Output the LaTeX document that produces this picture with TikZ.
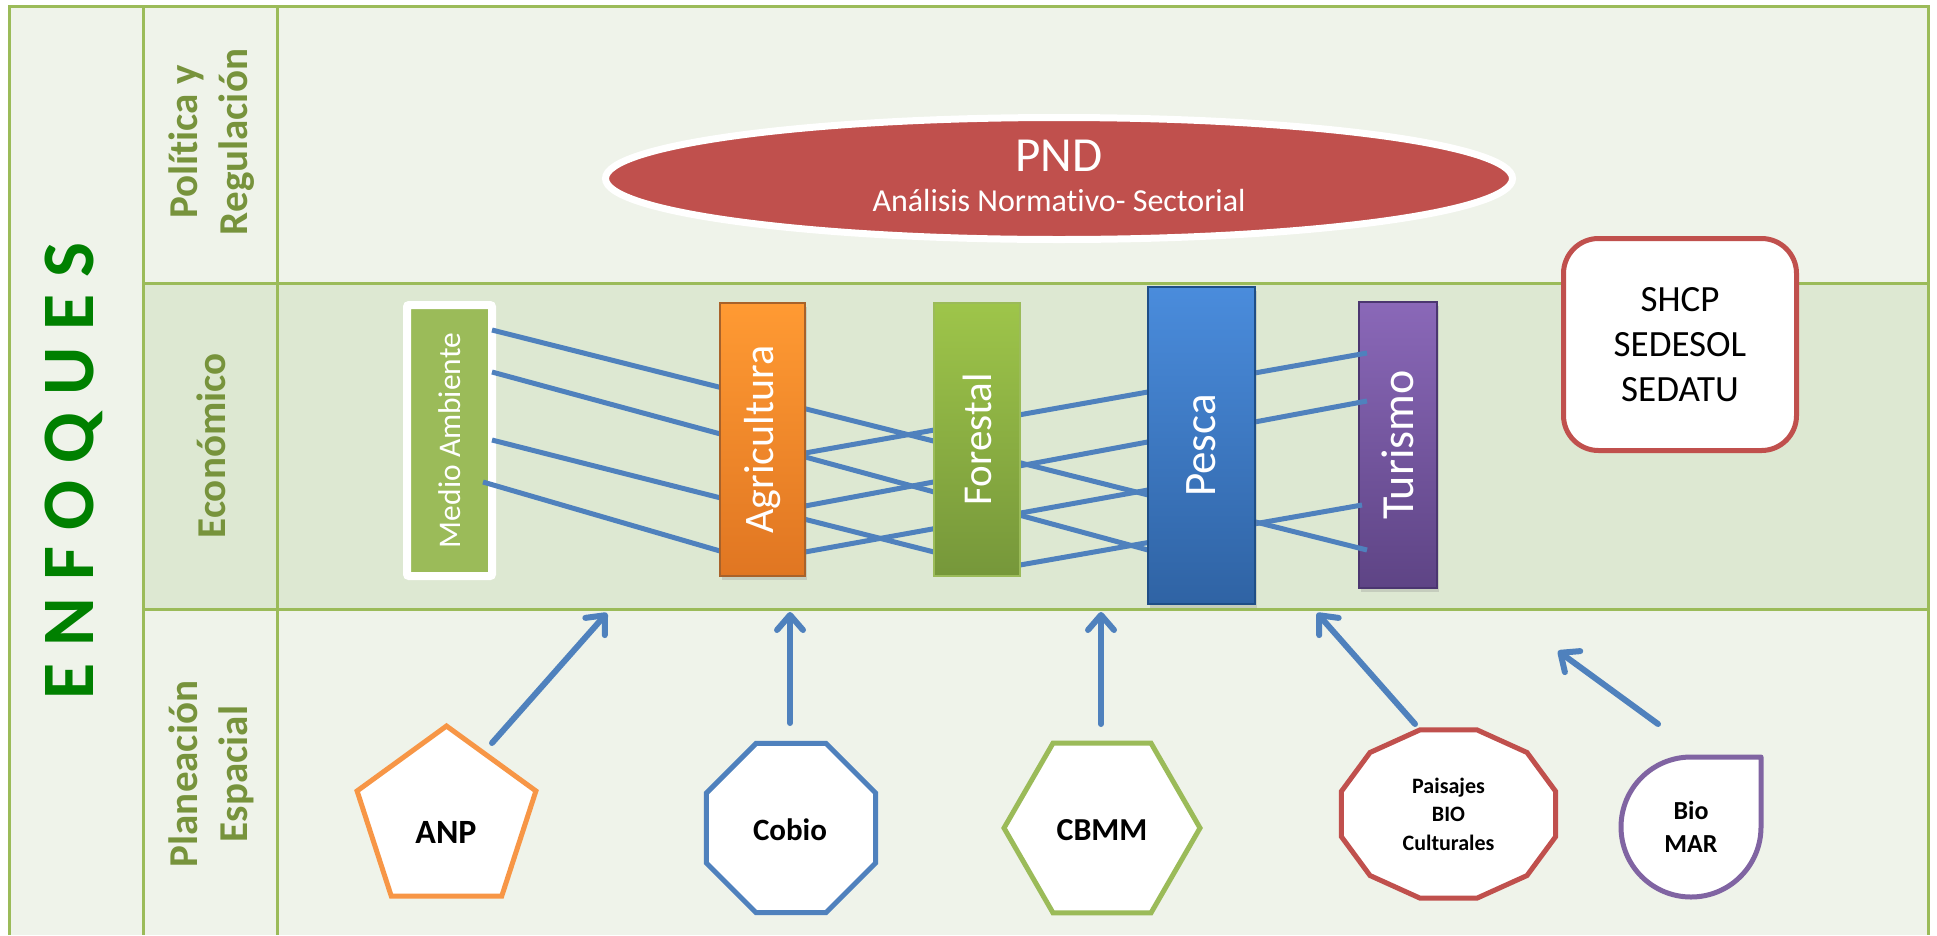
\documentclass[tikz,border=0pt]{standalone}
\usepackage{fontspec}
\setmainfont{Carlito}[Ligatures=NoCommon]
\usepackage{graphicx}
\usetikzlibrary{shapes.geometric,arrows.meta,calc,shadows}
\definecolor{bordergreen}{HTML}{9BBB59}
\definecolor{labelgreen}{HTML}{77933C}
\definecolor{enfgreen}{HTML}{008000}
\definecolor{rowlight}{HTML}{EFF3EA}
\definecolor{rowdark}{HTML}{DDE8D2}
\definecolor{lineblue}{HTML}{4F81BD}
\definecolor{anporange}{HTML}{F79646}
\definecolor{pndred}{HTML}{C0504D}
\definecolor{biopurple}{HTML}{8064A2}
\definecolor{agritop}{HTML}{FF9A33}
\definecolor{agribot}{HTML}{E07622}
\definecolor{agriedge}{HTML}{A8622A}
\definecolor{fortop}{HTML}{9EC54A}
\definecolor{forbot}{HTML}{76973A}
\definecolor{pestop}{HTML}{4A8CDC}
\definecolor{pesbot}{HTML}{2F63A4}
\definecolor{pesedge}{HTML}{1F4E86}
\definecolor{turtop}{HTML}{8A68B8}
\definecolor{turbot}{HTML}{5E4485}
\definecolor{turedge}{HTML}{4B3670}
\newcommand{\myfs}[1]{\fontsize{#1}{#1}\selectfont}
\begin{document}
\begin{tikzpicture}[x=1pt,y=-1pt,
  grid/.style={draw=bordergreen,line width=3pt},
  rowlabel/.style={rotate=90,align=center,text=labelgreen,font=\fontsize{41}{50}\selectfont\bfseries,inner sep=0pt},
  bar/.style={rectangle,inner sep=0pt,text=white},
  shadowed/.style={drop shadow={shadow xshift=2pt,shadow yshift=-4pt,opacity=0.25}},
  link/.style={draw=lineblue,line width=5pt},
  uparrow/.style={draw=lineblue,line width=6pt,line cap=round,-{Straight Barb[length=15pt,width=26pt,round]}},
  spot/.style={fill=white,line width=5pt,inner sep=0pt},
  spottext/.style={font=\bfseries,text=black,align=center,inner sep=0pt}]
\useasboundingbox (0,0) rectangle (1937,935);
\fill[white] (0,0) rectangle (1937,935);
\fill[rowlight] (9,6) rectangle (1928,935);
\fill[rowdark] (143,283) rectangle (1928,609);
\draw[grid] (9,935) -- (9,6) -- (1928,6) -- (1928,935);
\draw[grid] (143,6) -- (143,935);
\draw[grid] (277,6) -- (277,935);
\draw[grid] (143,283) -- (1928,283);
\draw[grid] (143,609) -- (1928,609);

% row labels
\node[rotate=90,text=enfgreen,font=\myfs{74}\bfseries,inner sep=0pt] (enf) at (74,471) {E N F O Q U E S};
\node[rowlabel] (pol) at (212,142) {Política y\\Regulación};
\node[rowlabel] (eco) at (211,446) {Económico};
\node[rowlabel] (plan) at (211,774) {Planeación\\Espacial};

% PND
\node[ellipse,fill=pndred,draw=white,line width=7pt,minimum width=907pt,minimum height=122pt] (pnd) at (1059,178.5) {};
\node[text=white,font=\myfs{49},inner sep=0pt] (pndt) at (1059,156) {PND};
\node[text=white,font=\myfs{32},inner sep=0pt] (pnds) at (1059,201) {Análisis Normativo- Sectorial};

% secretarias
\node[rectangle,rounded corners=35pt,draw=pndred,line width=5pt,fill=white,minimum width=233pt,minimum height=212pt,align=center,font=\fontsize{37}{45}\selectfont] (sec) at (1680,344.5) {SHCP\\SEDESOL\\SEDATU};

% bars below the links
\node[bar,fill=bordergreen,draw=white,line width=8pt,rounded corners=2pt,minimum width=85pt,minimum height=271pt,font=\myfs{31.5}] (medio) at (449.5,440.5) {\rotatebox{90}{Medio Ambiente}};
\node[bar,shadowed,top color=turtop,bottom color=turbot,draw=turedge,line width=1.5pt,minimum width=78pt,minimum height=286pt,font=\myfs{46}] (turismo) at (1398,445) {\rotatebox{90}{Turismo}};

% link end points
\coordinate (m1) at (492,330);
\coordinate (m2) at (492,372);
\coordinate (m3) at (492,440);
\coordinate (m4) at (483,482);
\coordinate (a4) at (720,551);
\coordinate (a5) at (805,453);
\coordinate (a6) at (805,506);
\coordinate (a7) at (805,552);
\coordinate (f3) at (934,552);
\coordinate (f8) at (1020,565);
\coordinate (p2) at (1148,550);
\coordinate (p7) at (1148,490);
\coordinate (t1) at (1367,353);
\coordinate (t2) at (1367,401);
\coordinate (t3) at (1362,505);
\coordinate (t4) at (1367,550);
\draw[link] (m1) -- (t4);
\draw[link] (m2) -- (p2);
\draw[link] (m3) -- (f3);
\draw[link] (m4) -- (a4);
\draw[link] (a5) -- (t1);
\draw[link] (a6) -- (t2);
\draw[link] (a7) -- (p7);
\draw[link] (f8) -- (t3);

% bars above the links
\node[bar,shadowed,top color=agritop,bottom color=agribot,draw=agriedge,line width=1.5pt,minimum width=85pt,minimum height=273pt,font=\myfs{42}] (agri) at (762.5,439.5) {\rotatebox{90}{Agricultura}};
\node[bar,top color=fortop,bottom color=forbot,draw=bordergreen,line width=1.5pt,minimum width=86pt,minimum height=273pt,font=\myfs{41}] (forestal) at (977,439.5) {\rotatebox{90}{Forestal}};
\node[bar,shadowed,top color=pestop,bottom color=pesbot,draw=pesedge,line width=1.5pt,minimum width=107pt,minimum height=317pt,font=\myfs{45}] (pesca) at (1201.5,445.5) {\rotatebox{90}{Pesca}};

% spatial planning shapes
\node[spot,regular polygon,regular polygon sides=5,minimum size=188pt,draw=anporange] (anp) at (446.5,820) {};
\node[spottext,font=\myfs{34}\bfseries] (anpt) at (446,832) {ANP};
\node[spot,regular polygon,regular polygon sides=8,minimum size=183pt,draw=lineblue] (cobio) at (791,828) {};
\node[spottext,font=\myfs{31}\bfseries] (cobiot) at (790,830) {Cobio};
\node[spot,regular polygon,regular polygon sides=6,minimum size=196pt,draw=bordergreen] (cbmm) at (1102,828) {};
\node[spottext,font=\myfs{32}\bfseries] (cbmmt) at (1102,830) {CBMM};
\coordinate (pc) at (1448.5,814);
\draw[fill=white,draw=pndred,line width=5pt,shift={(pc)}]
  (15:111pt and 87pt) -- (45:111pt and 87pt) -- (75:111pt and 87pt) -- (105:111pt and 87pt)
  -- (135:111pt and 87pt) -- (165:111pt and 87pt) -- (195:111pt and 87pt) -- (225:111pt and 87pt)
  -- (255:111pt and 87pt) -- (285:111pt and 87pt) -- (315:111pt and 87pt) -- (345:111pt and 87pt) -- cycle;
\node[spottext,font=\fontsize{22}{28.5}\selectfont\bfseries] (paisajes) at (pc) {Paisajes\\BIO\\Culturales};
\coordinate (bc) at (1691,827);
\draw[fill=white,draw=biopurple,line width=5pt,line join=round] ($(bc)+(70,-70)$) -- ++(0,70) arc[start angle=0,end angle=-270,radius=70pt] -- cycle;
\node[spottext,font=\fontsize{26}{33}\selectfont\bfseries] (biomar) at (bc) {Bio\\MAR};

% arrows
\coordinate (e1) at (607,613);
\coordinate (e2) at (790,612);
\coordinate (e3) at (1101,612);
\coordinate (e4) at (1317,613);
\coordinate (e5) at (1558,651);
\coordinate (s1) at (492,743);
\coordinate (s2) at (790,723);
\coordinate (s3) at (1101,724);
\coordinate (s4) at (1415,724);
\coordinate (s5) at (1658,724);
\draw[uparrow] (s1) -- (e1);
\draw[uparrow] (s2) -- (e2);
\draw[uparrow] (s3) -- (e3);
\draw[uparrow] (s4) -- (e4);
\draw[uparrow] (s5) -- (e5);
\end{tikzpicture}
\end{document}
